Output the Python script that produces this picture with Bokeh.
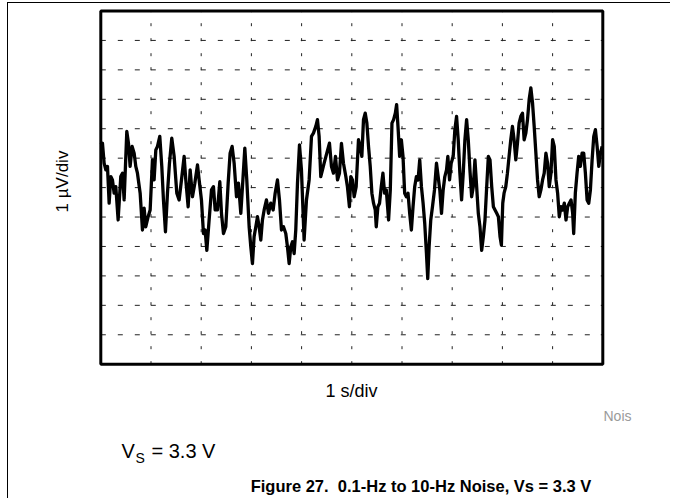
import math
from bokeh.plotting import figure
from bokeh.models import Range1d
from bokeh.core.properties import value
from bokeh.embed import file_html
from bokeh.resources import INLINE

# Noise trace (time in s, noise in uV)
time_s = [0.00, 0.033, 0.066, 0.10, 0.133, 0.166, 0.199, 0.232, 0.266, 0.299, 0.345, 0.398, 0.432, 0.465,
          0.518, 0.551, 0.584, 0.624, 0.664, 0.697, 0.730, 0.784, 0.830, 0.863, 0.896, 0.943, 0.983,
          1.029, 1.062, 1.096, 1.129, 1.175, 1.215, 1.248, 1.288, 1.328, 1.368, 1.414, 1.461, 1.514,
          1.560, 1.607, 1.660, 1.693, 1.740, 1.780, 1.826, 1.873, 1.926, 1.959, 2.005, 2.045, 2.078,
          2.112, 2.158, 2.205, 2.244, 2.278, 2.324, 2.371, 2.404, 2.444, 2.490, 2.537, 2.576, 2.616,
          2.656, 2.703, 2.742, 2.789, 2.822, 2.869, 2.908, 2.955, 2.988, 3.021, 3.054, 3.088, 3.121,
          3.154, 3.187, 3.220, 3.254, 3.300, 3.340, 3.386, 3.433, 3.473, 3.519, 3.559, 3.599, 3.639,
          3.685, 3.718, 3.752, 3.785, 3.818, 3.851, 3.884, 3.918, 3.958, 3.997, 4.050, 4.097, 4.150,
          4.197, 4.236, 4.283, 4.316, 4.349, 4.382, 4.416, 4.449, 4.502, 4.555, 4.595, 4.635, 4.675,
          4.715, 4.754, 4.794, 4.834, 4.881, 4.913, 4.953, 4.980, 5.013, 5.047, 5.087, 5.133, 5.167,
          5.200, 5.233, 5.267, 5.300, 5.333, 5.367, 5.400, 5.433, 5.467, 5.487, 5.520, 5.553, 5.587,
          5.620, 5.653, 5.687, 5.733, 5.767, 5.800, 5.833, 5.867, 5.893, 5.920, 5.953, 5.987, 6.020,
          6.053, 6.087, 6.120, 6.153, 6.187, 6.220, 6.253, 6.287, 6.320, 6.353, 6.387, 6.420, 6.453,
          6.487, 6.513, 6.540, 6.573, 6.607, 6.647, 6.687, 6.720, 6.753, 6.787, 6.820, 6.853, 6.887,
          6.913, 6.947, 6.980, 7.020, 7.053, 7.087, 7.120, 7.153, 7.187, 7.220, 7.253, 7.287, 7.320,
          7.353, 7.387, 7.420, 7.453, 7.487, 7.520, 7.553, 7.587, 7.620, 7.653, 7.687, 7.720, 7.753,
          7.787, 7.820, 7.853, 7.887, 7.920, 7.953, 7.980, 8.007, 8.033, 8.067, 8.100, 8.133, 8.167,
          8.200, 8.233, 8.267, 8.300, 8.333, 8.367, 8.400, 8.433, 8.467, 8.500, 8.533, 8.567, 8.600,
          8.633, 8.667, 8.700, 8.733, 8.767, 8.800, 8.833, 8.867, 8.900, 8.933, 8.967, 9.000, 9.033,
          9.067, 9.100, 9.133, 9.167, 9.200, 9.233, 9.267, 9.300, 9.333, 9.367, 9.400, 9.420, 9.453,
          9.487, 9.520, 9.553, 9.587, 9.620, 9.653, 9.687, 9.720, 9.753, 9.787, 9.820, 9.853, 9.887,
          9.920, 9.953, 9.987]
noise_uv = [1.45, 1.51, 0.83, 0.60, 0.72, -0.53, 0.375, 0.26, -0.19, 0.03, -1.10, 0.375, 0.49, -0.42,
            1.91, 1.51, 0.72, 1.40, 1.17, 0.72, 0.49, -0.19, -1.44, -0.70, -1.33, -0.99, -0.76,
            0.94, 0.26, 1.28, 1.40, 1.74, 0.72, -0.42, -1.50, -0.19, 0.83, 1.68, 1.06, -0.19,
            -0.42, 0.26, 1.06, 0.26, -0.65, 0.60, -0.31, 0.15, 0.77, 0.26, -0.42, -1.56, -1.44,
            -2.13, -1.10, -0.08, 0.03, -0.76, -0.76, 0.20, -0.875, -1.56, -1.33, 0.15, 1.17, 1.40,
            0.83, -0.31, 0.15, -0.875, 0.03, 1.34, 0.26, -1.33, -2.01, -2.58, -1.67, -1.33, -0.99,
            -1.33, -1.78, -1.10, -0.76, -0.42, -0.875, -0.53, -0.76, -0.19, 0.26, -0.42, -1.44, -1.33,
            -1.56, -2.01, -2.58, -2.01, -1.84, -2.24, -1.44, 0.15, 1.45, 0.60, -1.78, -0.42, 0.26,
            1.74, 1.85, 2.08, 2.31, 1.74, 0.375, 0.60, 0.83, 1.17, 1.51, 0.72, 0.49, 1.06,
            0.26, 0.49, 1.50, 0.83, 0.375, 0.03, -0.65, 0.375, 0.26, -0.31, 0.03, 1.625, 1.40,
            1.06, 2.31, 2.53, 2.19, 1.40, 0.72, -0.19, -0.53, -0.76, -1.33, -0.65, -0.53, 0.03,
            0.49, -0.19, -0.08, -1.10, -0.08, 2.19, 2.31, 2.53, 2.82, 2.08, 1.06, 1.625, 1.06,
            -0.19, -0.31, -0.19, -0.875, -1.44, -0.65, 0.03, 0.375, 0.26, 0.94, 0.03, -0.53, -1.22,
            -2.24, -3.09, -2.01, -1.10, -0.65, -0.08, 0.83, 0.375, -0.08, -0.875, -0.08, 0.375, 0.60,
            1.06, 0.26, 0.83, 1.06, 1.97, 2.42, 1.625, 0.49, -0.42, 0.49, 1.625, 2.31, 1.625,
            0.60, -0.31, 0.03, 0.94, 0.03, -0.875, -1.33, -2.13, -1.67, -1.10, 0.03, 1.06, 0.94,
            0.03, -0.65, -0.76, -0.875, -0.99, -1.67, -1.95, -0.53, -0.19, 0.03, 0.49, 1.06, 1.625,
            2.08, 1.625, 0.94, 1.51, 2.19, 2.42, 2.53, 1.625, 1.85, 2.31, 2.99, 3.39, 2.875,
            2.08, 1.17, 0.26, -0.31, -0.08, 0.26, 0.49, 1.17, 0.83, 0.03, 0.49, 1.625, 1.40,
            0.26, -0.19, -0.99, -0.65, -0.76, -0.53, -1.10, -0.65, -0.53, -0.42, -0.875, -1.56, -0.19,
            0.49, 1.06, 0.72, 1.17, 1.17, 0.49, -0.42, -0.53, -0.08, 0.94, 1.74, 1.97, 1.40,
            0.72, 1.17, 1.40]

# scope screen: 10 horizontal divisions (1 s/div), 12 vertical divisions (1 uV/div)
x_limits = [0, 10]
y_limits = [-6, 6]
x_grid_ticks = [1, 2, 3, 4, 5, 6, 7, 8, 9]
y_grid_ticks = [-5, -4, -3, -2, -1, 0, 1, 2, 3, 4, 5]

x_label = "1 s/div"
y_label = "1 \u00b5V/div"
watermark = "Nois"
supply_main, supply_sub, supply_rest = "V", "S", "= 3.3 V"
caption = "Figure 27.\u00a0 0.1-Hz to 10-Hz Noise, Vs = 3.3 V"

FONT = "Liberation Sans"

# ---- layout geometry (page pixels) ----
W, H = 663, 496                 # canvas size
ORG_X, ORG_Y = 8, 3             # canvas origin on the page (after css border/margin)
BOX_L, BOX_R = 100.3, 602.3     # scope box edges (page px)
BOX_T, BOX_B = 10.5, 363.7

sx = (BOX_R - BOX_L) / (x_limits[1] - x_limits[0])
sy = (BOX_B - BOX_T) / (y_limits[1] - y_limits[0])
cy = (BOX_T + BOX_B) / 2


def px2x(px):
    return x_limits[0] + (px - BOX_L) / sx


def py2y(py):
    return (cy - py) / sy


p = figure(width=W, height=H, output_backend="svg", toolbar_location=None,
           x_range=Range1d(px2x(ORG_X), px2x(ORG_X + W)),
           y_range=Range1d(py2y(ORG_Y + H), py2y(ORG_Y)),
           min_border_left=0, min_border_right=0, min_border_top=0, min_border_bottom=0)
p.axis.visible = False
p.grid.visible = False
p.outline_line_color = None
p.background_fill_color = "white"
p.border_fill_color = "white"

# dashed graticule
n_vx = len(x_grid_ticks)
n_hy = len(y_grid_ticks)
p.segment(x0=x_grid_ticks, y0=[y_limits[0]] * n_vx, x1=x_grid_ticks, y1=[y_limits[1]] * n_vx,
          line_color="#222222", line_width=1, line_dash="3 12 3 12 3 11")
p.segment(x0=[x_limits[0]] * n_hy, y0=y_grid_ticks, x1=[x_limits[1]] * n_hy, y1=y_grid_ticks,
          line_color="#222222", line_width=1, line_dash="5 12 5 12 5 11")

# noise trace
p.line(time_s, noise_uv, line_color="black", line_width=3.3, line_join="round")

# scope box
p.quad(left=[x_limits[0]], right=[x_limits[1]], bottom=[y_limits[0]], top=[y_limits[1]],
       fill_color=None, line_color="black", line_width=3)


def txt(px, py, text, size, color="black", style="normal", align="left", angle=0.0):
    p.text(x=[px2x(px)], y=[py2y(py)], text=[text], angle=angle,
           text_align=align, text_baseline="middle", text_font=value(FONT),
           text_font_size=size, text_font_style=style, text_color=color)


txt(62, 181, y_label, "17px", align="center", angle=math.pi / 2)
txt(351, 390, x_label, "18px", align="center")
txt(603, 415, watermark, "14px", color="#9a9a9a")
txt(121, 450, supply_main, "20px")
txt(135, 457, supply_sub, "14px")
txt(151, 450, supply_rest, "20px")
txt(420.5, 485, caption, "16.5px", style="bold", align="center")

p.styles = {"margin-left": "7px", "margin-top": "2px",
            "border-top": "1px solid black", "border-left": "1px solid black"}

open("out.html", "w").write(file_html(p, INLINE))
